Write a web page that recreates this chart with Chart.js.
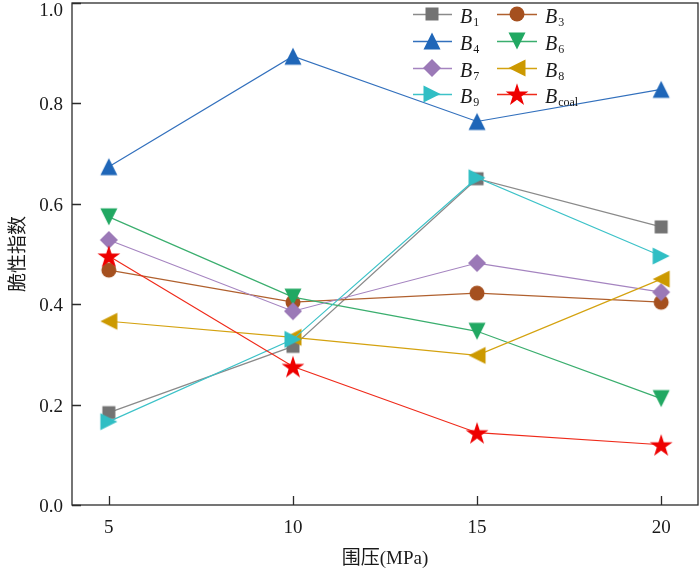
<!DOCTYPE html>
<html><head><meta charset="utf-8">
<script src="https://cdn.jsdelivr.net/npm/chart.js@4"></script>
<style>html,body{margin:0;padding:0;background:#fff;}</style>
</head><body>
<canvas id="c" width="700" height="575"></canvas>
<script>
// ---- data ----
const pressures = [5, 10, 15, 20];
const xTicks = [5, 10, 15, 20];
const yTicks = [0, 0.2, 0.4, 0.6, 0.8, 1.0];
const seriesSubs = ['1', '3', '4', '6', '7', '8', '9', 'coal'];
const B1 = [0.184, 0.316, 0.650, 0.554];
const B3 = [0.468, 0.404, 0.422, 0.404];
const B4 = [0.674, 0.894, 0.764, 0.828];
const B6 = [0.574, 0.414, 0.346, 0.212];
const B7 = [0.528, 0.386, 0.482, 0.424];
const B8 = [0.366, 0.334, 0.298, 0.450];
const B9 = [0.166, 0.330, 0.652, 0.496];
const Bcoal = [0.496, 0.276, 0.144, 0.120];
const seriesValues = [B1, B3, B4, B6, B7, B8, B9, Bcoal];

// ---- styles ----
const styles = [
  {color:'#737373', line:'#8a8a8a', shape:'square', d:13},
  {color:'#a5501f', line:'#b0602e', shape:'circle', d:15},
  {color:'#1f66b8', line:'#3270bd', shape:'triUp', d:17},
  {color:'#21a862', line:'#3aae6e', shape:'triDown', d:17},
  {color:'#9b79b7', line:'#a584c0', shape:'diamond', d:18},
  {color:'#cc9900', line:'#d4a20f', shape:'triLeft', d:17},
  {color:'#30bec4', line:'#3cc2c8', shape:'triRight', d:17},
  {color:'#ee0000', line:'#ef2a1a', shape:'star', d:24}
];
const SERIF = '"Liberation Serif", "Times New Roman", serif';
const CJK = '"Liberation Serif", "Noto Sans CJK SC", serif';

function makeMarker(shape, color, d) {
  const s = 30, m = s / 2, h = d / 2;
  const c = document.createElement('canvas');
  c.width = s; c.height = s;
  const g = c.getContext('2d');
  g.fillStyle = color;
  g.beginPath();
  if (shape === 'square') g.rect(m - h, m - h, d, d);
  else if (shape === 'circle') g.arc(m, m, h, 0, Math.PI * 2);
  else if (shape === 'diamond') { g.moveTo(m, m - h); g.lineTo(m + h, m); g.lineTo(m, m + h); g.lineTo(m - h, m); }
  else if (shape === 'triUp') { g.moveTo(m, m - h); g.lineTo(m + h, m + h); g.lineTo(m - h, m + h); }
  else if (shape === 'triDown') { g.moveTo(m, m + h); g.lineTo(m + h, m - h); g.lineTo(m - h, m - h); }
  else if (shape === 'triLeft') { g.moveTo(m - h, m); g.lineTo(m + h, m - h); g.lineTo(m + h, m + h); }
  else if (shape === 'triRight') { g.moveTo(m + h, m); g.lineTo(m - h, m - h); g.lineTo(m - h, m + h); }
  else if (shape === 'star') {
    for (let i = 0; i < 10; i++) {
      const r = i % 2 ? h * 0.382 : h;
      const a = -Math.PI / 2 + i * Math.PI / 5;
      const px = m + r * Math.cos(a), py = m + 1.2 + r * Math.sin(a);
      if (i === 0) g.moveTo(px, py); else g.lineTo(px, py);
    }
  }
  g.closePath();
  g.fill();
  return c;
}
const markers = styles.map(s => makeMarker(s.shape, s.color, s.d));

const datasets = seriesValues.map((vals, i) => ({
  label: 'B' + seriesSubs[i],
  data: pressures.map((p, j) => ({x: p, y: vals[j]})),
  borderColor: styles[i].line,
  backgroundColor: styles[i].color,
  borderWidth: 1.2,
  pointStyle: markers[i],
  pointRadius: 8,
  pointHoverRadius: 8,
  order: -i,
  tension: 0
}));

const framePlugin = {
  id: 'frame',
  afterDraw(chart) {
    const {ctx, chartArea: a, scales} = chart;
    ctx.save();
    ctx.strokeStyle = '#2b2b2b';
    ctx.lineWidth = 1.3;
    ctx.strokeRect(a.left, a.top, a.right - a.left, a.bottom - a.top);
    ctx.beginPath();
    scales.x.ticks.forEach(t => {
      const px = Math.round(scales.x.getPixelForValue(t.value)) + 0.5;
      ctx.moveTo(px, a.bottom); ctx.lineTo(px, a.bottom - 9);
    });
    scales.y.ticks.forEach(t => {
      const py = Math.round(scales.y.getPixelForValue(t.value)) + 0.5;
      ctx.moveTo(a.left, py); ctx.lineTo(a.left + 9, py);
    });
    ctx.stroke();
    // y tick labels (top one kept inside the canvas)
    ctx.fillStyle = '#1a1a1a';
    ctx.font = '19px ' + SERIF;
    ctx.textAlign = 'right';
    ctx.textBaseline = 'middle';
    scales.y.ticks.forEach(t => {
      const py = scales.y.getPixelForValue(t.value);
      ctx.fillText(Number(t.value).toFixed(1), a.left - 9, Math.max(py + 2, 11));
    });
    ctx.restore();
  }
};

const legendPlugin = {
  id: 'customLegend',
  afterDraw(chart) {
    const ctx = chart.ctx;
    const rows = [14, 41, 68, 94];
    const cols = [{x1: 413, x2: 452, mx: 432, tx: 460}, {x1: 497, x2: 537, mx: 517, tx: 545}];
    ctx.save();
    seriesSubs.forEach((sub, i) => {
      const r = Math.floor(i / 2), c = cols[i % 2], y = rows[r];
      ctx.strokeStyle = styles[i].line;
      ctx.lineWidth = 1.5;
      ctx.beginPath(); ctx.moveTo(c.x1, y + 0.5); ctx.lineTo(c.x2, y + 0.5); ctx.stroke();
      ctx.drawImage(markers[i], c.mx - 15, y - 15);
      ctx.fillStyle = '#1a1a1a';
      ctx.textBaseline = 'alphabetic';
      ctx.textAlign = 'left';
      ctx.font = 'italic 20px ' + SERIF;
      ctx.fillText('B', c.tx, y + 9);
      const w = ctx.measureText('B').width;
      ctx.font = '12px ' + SERIF;
      ctx.fillText(sub, c.tx + w + 1, y + 12);
    });
    ctx.restore();
  }
};

new Chart(document.getElementById('c'), {
  type: 'line',
  data: {datasets},
  options: {
    responsive: false,
    animation: false,
    devicePixelRatio: 1,
    layout: {autoPadding: false, padding: {top: 3, right: 2, left: 0, bottom: 0}},
    plugins: {legend: {display: false}, tooltip: {enabled: false}},
    scales: {
      x: {
        type: 'linear', min: 4, max: 21,
        afterBuildTicks: s => { s.ticks = xTicks.map(v => ({value: v})); },
        afterFit: s => { s.height = 70; s.paddingLeft = 0; s.paddingRight = 0; },
        grid: {display: true, drawOnChartArea: false, drawTicks: false},
        border: {display: false},
        ticks: {font: {family: SERIF, size: 19}, color: '#1a1a1a', padding: 12, callback: v => String(v)},
        title: {display: true, text: '围压(MPa)', font: {family: CJK, size: 19}, color: '#1a1a1a', padding: {top: 0, bottom: 5}}
      },
      y: {
        type: 'linear', min: 0, max: 1,
        afterBuildTicks: s => { s.ticks = yTicks.map(v => ({value: v})); },
        afterFit: s => { s.width = 72; s.paddingTop = 0; s.paddingBottom = 0; },
        grid: {display: true, drawOnChartArea: false, drawTicks: false},
        border: {display: false},
        ticks: {display: false},
        title: {display: true, text: '脆性指数', font: {family: CJK, size: 19}, color: '#1a1a1a', padding: {top: 8, bottom: 0}}
      }
    }
  },
  plugins: [framePlugin, legendPlugin]
});
</script>
</body></html>
